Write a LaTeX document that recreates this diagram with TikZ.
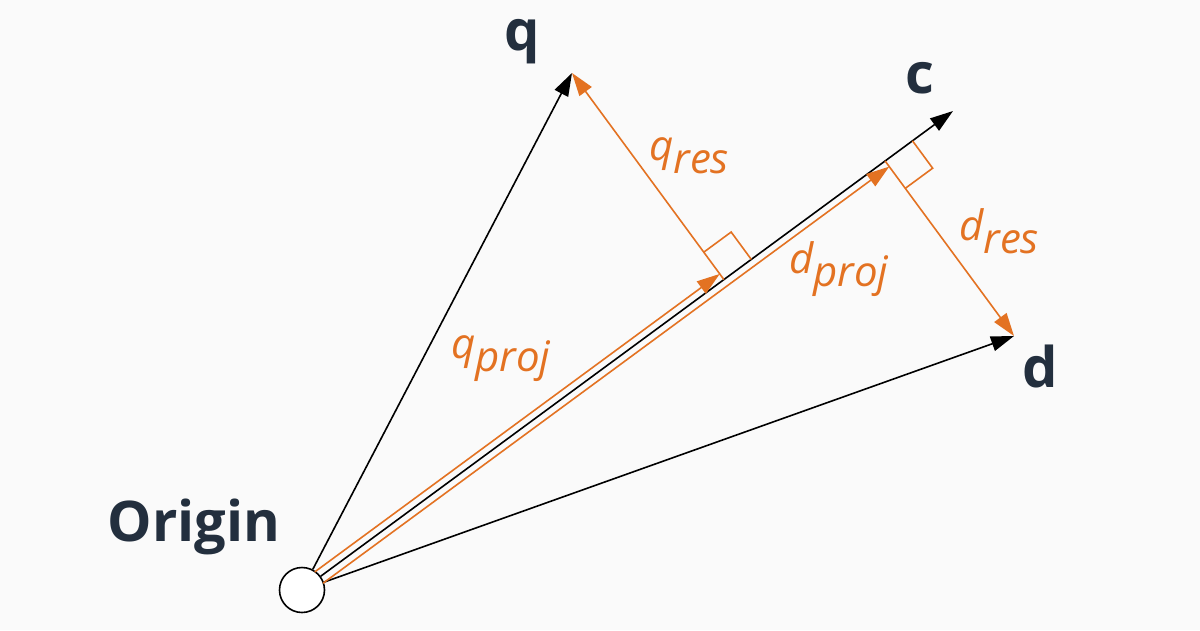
\documentclass[tikz,border=0pt]{standalone}
\usepackage{fontspec}
\setmainfont{Open Sans}
\usetikzlibrary{arrows.meta,calc}
\definecolor{navy}{HTML}{232F3E}
\definecolor{awsorange}{RGB}{227,114,34}
\definecolor{paper}{HTML}{FAFAFA}

\begin{document}
\begin{tikzpicture}[x=1pt,y=-1pt,>={Triangle[length=23pt,width=15pt]},
                    vec/.style={->,black,line width=1.6pt},
                    part/.style={->,awsorange,line width=1.6pt},
                    corner/.style={awsorange,line width=1.6pt},
                    name label/.style={font=\fontsize{56}{60}\selectfont\bfseries,text=navy,inner sep=0pt,anchor=base},
                    part label/.style={font=\fontsize{42}{46}\selectfont\itshape,text=awsorange,inner sep=0pt,anchor=base west}]
  \useasboundingbox (0,0) rectangle (1200,630);
  \fill[paper] (0,0) rectangle (1200,630);
  \node[circle,draw,line width=1.6pt,fill=white,minimum size=45pt,inner sep=0pt] (O) at (302,590) {};
  \coordinate (q) at (572,73);
  \coordinate (c) at (953,111);
  \coordinate (d) at (1014,336);
  \coordinate (qfoot) at ($(O.center)!(q)!(c)$);
  \coordinate (dfoot) at ($(O.center)!(d)!(c)$);
  % vectors
  \draw[vec] (O) -- (q);
  \draw[vec] (O) -- (c);
  \draw[vec] (O) -- (d);
  % projections and residuals
  \draw[part,shorten <=21pt] ($(O.center)!7pt!90:(c)$) -- ($(qfoot)!7pt!-90:(O.center)$);
  \draw[part,shorten <=21pt] ($(O.center)!7pt!-90:(c)$) -- ($(dfoot)!7pt!90:(O.center)$);
  \draw[part] (qfoot) -- (q);
  \draw[part] (dfoot) -- (d);
  % right angles
  \draw[corner] ($(qfoot)!34pt!(c)$) -- ($(qfoot)!34pt!(c) + (qfoot)!34pt!(q) - (qfoot)$) -- ($(qfoot)!34pt!(q)$);
  \draw[corner] ($(dfoot)!34pt!(c)$) -- ($(dfoot)!34pt!(c) + (dfoot)!34pt!(d) - (dfoot)$) -- ($(dfoot)!34pt!(d)$);
  % labels
  \node[name label] (qlabel) at (522,50) {q};
  \node[name label] (clabel) at (920,93) {c};
  \node[name label] (dlabel) at (1040,387) {d};
  \node[name label] (olabel) at (194,541) {Origin};
  \node[part label] (qres) at (649,160) {q\raisebox{-0.32em}{res}};
  \node[part label] (dres) at (959,240) {d\raisebox{-0.32em}{res}};
  \node[part label] (dproj) at (789,273) {d\raisebox{-0.32em}{proj}};
  \node[part label] (qproj) at (451,358) {q\raisebox{-0.32em}{proj}};
\end{tikzpicture}
\end{document}
